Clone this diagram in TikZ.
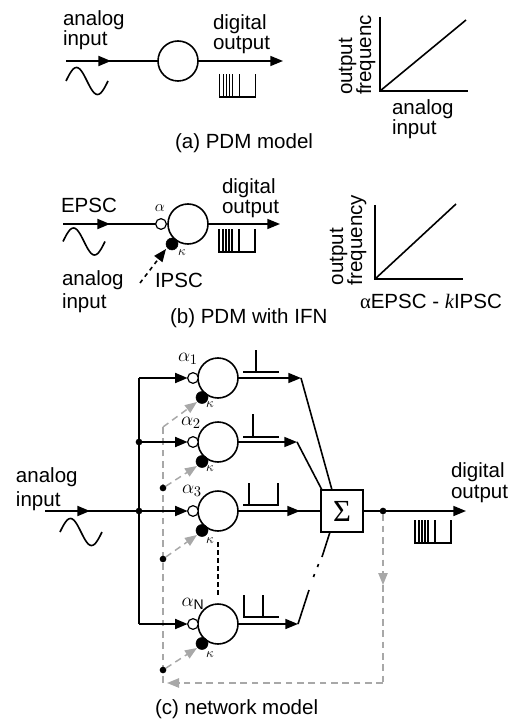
\documentclass[tikz,border=0pt]{standalone}
\usepackage{fontspec}
\setmainfont{Liberation Sans}
\newfontfamily\timesf{Liberation Serif}
\usetikzlibrary{arrows.meta,calc}
\definecolor{fbgray}{gray}{0.66}
\tikzset{
  x=0.75pt,y=-0.75pt,
  txt/.style={anchor=base west,inner sep=0pt,outer sep=0pt,font=\fontsize{15.4pt}{15.4pt}\selectfont},
  rot/.style={txt,rotate=90,anchor=base west},
  gk/.style={inner sep=0pt,outer sep=0pt,font=\fontsize{10pt}{10pt}\selectfont},
  ga/.style={inner sep=0pt,outer sep=0pt,font=\fontsize{13pt}{13pt}\selectfont},
  gab/.style={inner sep=0pt,outer sep=0pt,font=\fontsize{15pt}{15pt}\selectfont},
  neuron/.style={circle,draw,line width=1.2pt,minimum size=30pt,inner sep=0pt,outer sep=0pt,fill=white},
  exc/.style={circle,draw,line width=0.9pt,minimum size=8pt,inner sep=0pt,outer sep=0pt,fill=white},
  inh/.style={circle,draw,fill=black,minimum size=9pt,inner sep=0pt,outer sep=0pt},
  jdot/.style={circle,fill=black,minimum size=5pt,inner sep=0pt,outer sep=0pt},
  wire/.style={line width=1.2pt},
  tip/.style={-{Triangle[length=9.5pt,width=7.5pt]}},
  heavy/.style={line width=1.5pt,tip},
  fb/.style={draw=fbgray,line width=1.1pt,dash pattern=on 5pt off 3.5pt},
  fbarrow/.style={fb,-{Triangle[length=9pt,width=7pt,fbgray]}},
  blackdash/.style={wire,dash pattern=on 3.5pt off 2.5pt},
  axisl/.style={line width=1.2pt},
  spk/.style={line width=0.8pt},
  sinew/.pic={\draw[line width=1.2pt] plot[smooth,domain=0:42,samples=40] (\x,{-13.5*sin(360*\x/42)});},
  burst/.pic={\draw[spk] (0,-23)--(0,0)--(36,0)--(36,-23)
     (4,0)--(4,-23) (7,0)--(7,-23) (10,0)--(10,-23) (13,0)--(13,-23) (20,0)--(20,-23);},
}
\begin{document}
\begin{tikzpicture}
\useasboundingbox (0,0) rectangle (515,720);
% ---------- (a)
\node[txt,align=left] (ta1) at (63,46) {analog\\input};
\node[txt,align=left] (td1) at (213,50) {digital\\output};
\coordinate (ain) at (66,61);
\coordinate (atip) at (111,61);
\coordinate (aout) at (283,61);
\node[neuron] (an) at (178,61) {};
\draw[wire] (ain) -- (an);
\draw[heavy] (ain) -- (atip);
\draw[wire,tip] (an) -- (aout);
\pic at (66,81) {sinew};
\pic at (219.5,97) {burst};
\coordinate (ao) at (380,91);
\coordinate (ay) at (380,17);
\coordinate (ax) at (468,91);
\coordinate (ad) at (466,20);
\draw[axisl] (ay) -- (ao) -- (ax);
\draw[axisl] (ao) -- (ad);
\node[rot] (ty1) at (352,95) {output};
\node[rot] (ty2) at (371,95) {frequenc};
\node[txt,align=left] (tx1) at (392,135) {analog\\input};
\node[txt] (capa) at (175,149) {(a) PDM model};
% ---------- (b)
\node[txt] (te) at (61,213) {EPSC};
\node[txt,align=left] (td3) at (222,214) {digital\\output};
\coordinate (bin) at (63,224);
\coordinate (btip) at (110,224);
\coordinate (bout) at (280,224);
\node[neuron] (bn) at (188,224) {};
\node[exc] (be) at (161,224) {};
\node[inh] (bi) at (172,244) {};
\draw[wire] (bin) -- (be);
\draw[heavy] (bin) -- (btip);
\draw[wire,tip] (bn) -- (bout);
\coordinate (bis) at (140,283);
\coordinate (bit) at (166,249);
\draw[wire,tip,dash pattern=on 3pt off 3pt] (bis) -- (bit);
\node[ga] (ba) at (160,208) {$\alpha$};
\node[gk] (bk) at (182,253) {$\kappa$};
\pic at (63,241.5) {sinew};
\pic at (219,252) {burst};
\node[txt,align=left] (ta3) at (62,308) {analog\\[1.2pt]input};
\node[txt] (tip) at (155,287) {IPSC};
\node[txt] (capb) at (170,323) {(b) PDM with IFN};
\coordinate (bo) at (375,279);
\coordinate (by) at (375,205);
\coordinate (bx) at (463,279);
\coordinate (bd) at (456,204);
\draw[axisl] (by) -- (bo) -- (bx);
\draw[axisl] (bo) -- (bd);
\node[rot] (ty3) at (343,285) {output};
\node[rot] (ty4) at (362,285) {frequency};
\node[txt] (tf) at (360,308) {{\timesf α}EPSC - {\timesf\itshape k}IPSC};
% ---------- (c)
\node[txt,align=left] (ta5) at (16,506) {analog\\[2.6pt]input};
\coordinate (cin) at (45,511);
\coordinate (cintip) at (90,511);
\pic at (60,532) {sinew};
% feedback trunk, under the black wires
\coordinate (fb1) at (383,683);
\coordinate (fbm) at (383,585);
\coordinate (fb2) at (167,683);
\coordinate (fb3) at (163,683);
\coordinate (fb4) at (163,427);
\draw[fb] (fb3) -- (fb4);
% spine
\coordinate (s1) at (139,378);
\node[jdot] (s2) at (139,442) {};
\node[jdot] (s3) at (139,511) {};
\coordinate (s4) at (139,624);
\draw[line width=1.3pt] (s1) -- (s4);
\draw[wire] (cin) -- (s3);
\draw[heavy] (cin) -- (cintip);
% neurons
\foreach \n/\yy in {1/378,2/442,3/511,4/624}{
  \node[neuron] (n\n) at (218,\yy) {};
  \node[exc] (e\n) at (193,\yy) {};
  \node[inh] (i\n) at (202,\yy+19.5) {};
  \coordinate (k\n) at (197,\yy+24);
}
\foreach \n/\s in {1/s1,2/s2,3/s3,4/s4}{
  \draw[heavy] (\s) -- (e\n.west);
}
\node[gab] at (188,359) {$\alpha_1$};
\node[gab] at (191,423) {$\alpha_2$};
\node[gab] at (192,491) {$\alpha_3$};
\node[gab] at (193,604) {$\alpha_{\mathrm{N}}$};
\foreach \n/\yy in {1/405,2/469,3/541,4/655}{
  \node[gk] at (210,\yy) {$\kappa$};
}
% summer
\node[draw,line width=1.2pt,minimum size=31.5pt,inner sep=0pt,outer sep=0pt] (sum) at (342,511) {\timesf\fontsize{23pt}{23pt}\selectfont Σ};
% outputs
\coordinate (o1) at (301,378);
\coordinate (o2) at (297,442);
\coordinate (o3) at (300,511);
\coordinate (o4) at (298,624);
\draw[wire,tip] (n1) -- (o1);
\draw[wire,tip] (n2) -- (o2);
\draw[wire] (n3) -- (sum);
\draw[wire,tip] (n3) -- (o3);
\draw[wire,tip] (n4) -- (o4);
\draw[wire] (o1) -- (332,490);
\draw[wire] (o2) -- (322,490);
\coordinate (o4a) at (309,590);
\coordinate (o4b) at (313.5,577);
\coordinate (o4c) at (314.5,574);
\coordinate (o4d) at (317.5,567);
\coordinate (o4e) at (318.5,564);
\coordinate (o4f) at (322,557);
\coordinate (o4g) at (330,532);
\draw[wire] (o4) -- (o4a) (o4b) -- (o4c) (o4d) -- (o4e) (o4f) -- (o4g);
% black dashes between neurons
\coordinate (dv1) at (218,542);
\coordinate (dv2) at (218,595);
\draw[blackdash] (dv1) -- (dv2);
% spikes
\draw[spk] (243,372)--(279,372) (256,372)--(256,350);
\draw[spk] (243,437)--(279,437) (253,437)--(253,414);
\draw[spk] (243,505)--(279,505) (249,505)--(249,483) (278,505)--(278,483);
\draw[spk] (243,617)--(279,617) (244,617)--(244,595) (263,617)--(263,595);
% main output
\coordinate (cout) at (466,511);
\draw[wire,tip] (sum) -- (cout);
\pic at (415,543) {burst};
\node[txt,align=left] (td5) at (451,498) {digital\\output};
% feedback
\node[jdot] (od) at (383,511) {};
\node[jdot] (d2) at (163,488) {};
\node[jdot] (d3) at (163,559) {};
\node[jdot] (d4) at (163,670) {};
\draw[fbarrow] (od) -- (fbm);
\draw[fb] (fbm) -- (fb1);
\draw[fbarrow] (fb1) -- (fb2);
\draw[fbarrow] (fb4) -- (k1);
\draw[fbarrow] (d2) -- (k2);
\draw[fbarrow] (d3) -- (k3);
\draw[fbarrow] (d4) -- (k4);
\node[txt] (capc) at (155,714) {(c) network model};
\end{tikzpicture}
\end{document}
